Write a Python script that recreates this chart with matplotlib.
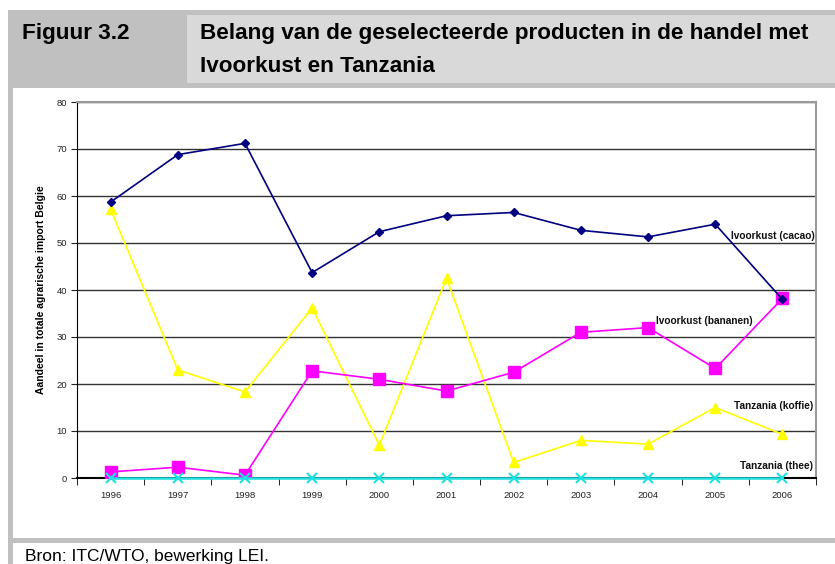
import matplotlib.pyplot as plt
import matplotlib.patches as patches
import numpy as np

# Data
years = ['1996', '1997', '1998', '1999', '2000', '2001', '2002', '2003', '2004', '2005', '2006']
cacao = [58.7, 68.8, 71.2, 43.7, 52.4, 55.8, 56.5, 52.7, 51.3, 54.0, 38.0]
bananen = [1.3, 2.3, 0.6, 22.8, 21.0, 18.5, 22.5, 31.0, 32.0, 23.3, 38.2]
koffie = [57.2, 23.0, 18.3, 36.2, 7.0, 42.5, 3.3, 8.0, 7.2, 15.0, 9.3]
thee = [0, 0, 0, 0, 0, 0, 0, 0, 0, 0, 0]

plt.rcParams['font.family'] = ['Liberation Sans', 'DejaVu Sans']

W, H = 835, 564
fig = plt.figure(figsize=(W / 100, H / 100), dpi=100)


def box(x0, y0, x1, y1, color):
    # rectangle in pixel coords (top-left origin)
    fig.patches.append(patches.Rectangle((x0 / W, 1 - y1 / H), (x1 - x0) / W, (y1 - y0) / H,
                                         transform=fig.transFigure, facecolor=color,
                                         edgecolor='none', zorder=0))


# header and frame
box(8, 10, W, 88, '#c0c0c0')
box(187, 15, W, 83, '#d9d9d9')
box(8, 88, 13, H, '#c0c0c0')
box(8, 538, W, 543, '#c0c0c0')

title_font = ['Liberation Sans Narrow', 'Liberation Sans', 'DejaVu Sans']
fig.text(22 / W, 1 - 34 / H, 'Figuur 3.2', fontsize=16.2, fontweight='bold',
         family=title_font, va='center', ha='left')
fig.text(200 / W, 1 - 34 / H, 'Belang van de geselecteerde producten in de handel met',
         fontsize=16.2, fontweight='bold', family=title_font, va='center', ha='left')
fig.text(200 / W, 1 - 67 / H, 'Ivoorkust en Tanzania', fontsize=16.2, fontweight='bold',
         family=title_font, va='center', ha='left')
fig.text(25 / W, 1 - 557 / H, 'Bron: ITC/WTO, bewerking LEI.', fontsize=12.5,
         family=title_font, va='center', ha='left')

ax = fig.add_axes([77 / W, 1 - 478 / H, (816 - 77) / W, (478 - 102) / H])
x = np.arange(len(years))

ax.plot(x, cacao, color='#000080', marker='D', markersize=4.5, lw=1.2, zorder=5)
ax.plot(x, bananen, color='#ff00ff', marker='s', markersize=8, lw=1.2, zorder=4)
ax.plot(x, koffie, color='#ffff00', marker='^', markersize=7, lw=1.2, zorder=3)
ax.plot(x, thee, color='#20e0e0', marker='x', markersize=7, mew=1.5, lw=1.8, zorder=6,
        clip_on=False)

ax.set_xlim(-0.5, len(years) - 0.5)
ax.set_ylim(0, 80)
ax.set_yticks(range(0, 81, 10))
ax.set_xticks(x)
ax.set_xticklabels(years)
ax.set_xticks(np.arange(-0.5, len(years), 1), minor=True)
ax.tick_params(axis='x', which='major', length=0, pad=9, labelsize=6.8, colors='#222222')
ax.tick_params(axis='x', which='minor', length=5, direction='out', color='black')
ax.tick_params(axis='y', length=4, direction='out', labelsize=6.8, pad=3, colors='#222222')
ax.yaxis.grid(True, color='#333333', lw=1)
ax.set_axisbelow(True)
for s in ['top', 'right']:
    ax.spines[s].set_color('#999999')
    ax.spines[s].set_linewidth(1.5)
ax.spines['left'].set_color('black')
ax.spines['bottom'].set_color('black')
ax.spines['bottom'].set_linewidth(1.5)

ax.set_ylabel('Aandeel in totale agrarische import Belgie', fontsize=7.5, fontweight='bold',
              labelpad=8)

lab = dict(fontsize=7.3, fontweight='bold', ha='right', va='center', color='#111111')
ax.text(10.48, 51.5, 'Ivoorkust (cacao)', **lab)
ax.text(9.56, 33.5, 'Ivoorkust (bananen)', **lab)
ax.text(10.46, 15.3, 'Tanzania (koffie)', **lab)
ax.text(10.45, 2.5, 'Tanzania (thee)', **lab)

fig.savefig('out.png', dpi=100)
